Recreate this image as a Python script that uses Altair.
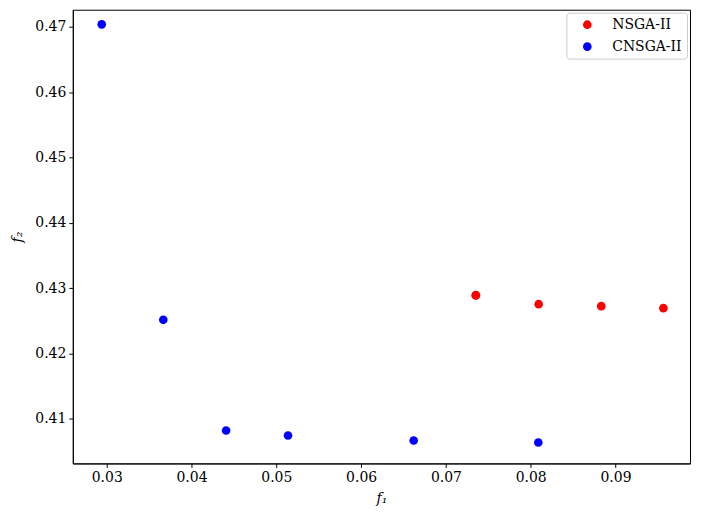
import altair as alt
import pandas as pd

# NSGA-II results
nsga_f1 = [0.07353, 0.07353, 0.08094, 0.08832, 0.09565]
nsga_f2 = [0.42892, 0.42888, 0.42754, 0.42724, 0.42693]

# CNSGA-II results
cnsga_f1 = [0.02941, 0.03667, 0.04408, 0.05138, 0.06620, 0.08090]
cnsga_f2 = [0.47035, 0.42515, 0.40822, 0.40745, 0.40669, 0.40638]

series_names = ["NSGA-II", "CNSGA-II"]
series_colors = ["#ff0000", "#0000ff"]

x_ticks = [0.03, 0.04, 0.05, 0.06, 0.07, 0.08, 0.09]
y_ticks = [0.41, 0.42, 0.43, 0.44, 0.45, 0.46, 0.47]

rows = []
for a, b in zip(nsga_f1, nsga_f2):
    rows.append({"f1": a, "f2": b, "alg": series_names[0]})
for a, b in zip(cnsga_f1, cnsga_f2):
    rows.append({"f1": a, "f2": b, "alg": series_names[1]})
df = pd.DataFrame(rows)

FONT = "DejaVu Serif"

chart = alt.Chart(df).mark_circle(size=75, opacity=1).encode(
    x=alt.X("f1:Q",
            scale=alt.Scale(domain=[0.026, 0.09879], nice=False, zero=False),
            axis=alt.Axis(values=x_ticks, format=".2f", title="f₁",
                          titleFontStyle="italic", titlePadding=7)),
    y=alt.Y("f2:Q",
            scale=alt.Scale(domain=[0.40318, 0.47259], nice=False, zero=False),
            axis=alt.Axis(values=y_ticks, format=".2f", title="f₂",
                          titleFontStyle="italic", titlePadding=10)),
    color=alt.Color("alg:N",
                    scale=alt.Scale(domain=series_names, range=series_colors),
                    sort=series_names,
                    legend=alt.Legend(title=None, orient="none",
                                      legendX=495, legendY=3,
                                      symbolType="circle", symbolSize=75,
                                      symbolOffset=9, labelOffset=18,
                                      padding=5, rowPadding=8,
                                      fillColor="rgba(255,255,255,0.8)",
                                      strokeColor="#cccccc", cornerRadius=3,
                                      labelFont=FONT, labelFontSize=14,
                                      labelColor="black")),
).properties(
    width=619, height=455,
    autosize=alt.AutoSizeParams(type="none"),
    padding={"left": 65, "top": 1, "right": 5, "bottom": 50},
).configure_view(
    stroke="black", strokeWidth=1
).configure_axis(
    grid=False,
    domainColor="black", domainWidth=1,
    tickColor="black", tickWidth=1, tickSize=4,
    labelPadding=3, labelFont=FONT, labelFontSize=14, labelColor="black",
    titleFont=FONT, titleFontSize=14, titleFontWeight="normal", titleColor="black",
)

chart.save("out.html", embed_options={"renderer": "svg", "actions": False})
